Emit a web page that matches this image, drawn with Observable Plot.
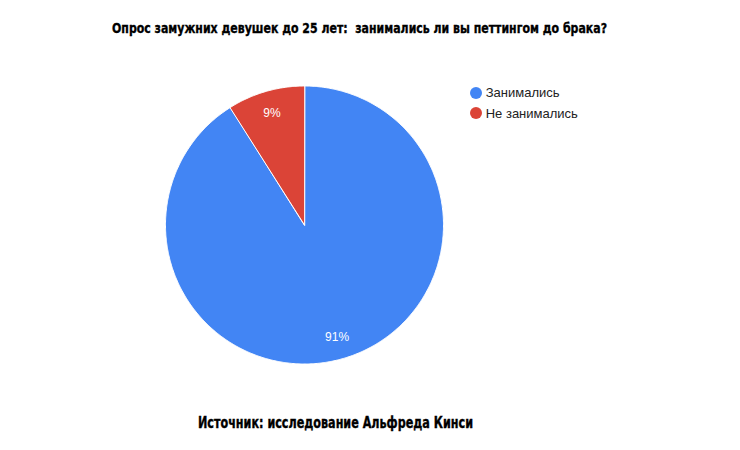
<!DOCTYPE html>
<html><head><meta charset="utf-8">
<script src="https://cdn.jsdelivr.net/npm/d3@7"></script>
<script src="https://cdn.jsdelivr.net/npm/@observablehq/plot@0.6"></script>
<style>
body{margin:0;background:#fff;width:740px;height:450px;position:relative;overflow:hidden;font-family:"Liberation Sans",Arial,sans-serif}
.heavy{position:absolute;font-family:"DejaVu Sans Condensed","Liberation Sans",sans-serif;font-weight:bold;line-height:1;white-space:pre;color:#000;transform-origin:0 50%;-webkit-text-stroke:0.35px #000}
#title{left:112px;top:20.8px;font-size:14.5px}
#caption{left:198px;top:415.5px;font-size:15.5px}
#chart{position:absolute;left:0;top:50px}
.row{position:absolute;left:469.7px;height:14px;display:flex;align-items:center;font-size:13px;color:#222;white-space:nowrap}
.sw{display:inline-block;width:12px;height:12px;border-radius:50%;margin-right:4px}
</style></head>
<body>
<div id="title" class="heavy"></div>
<div id="chart"></div>
<div id="legend"></div>
<div id="caption" class="heavy"></div>
<script>
const titleText = "Опрос замужних девушек до 25 лет:  занимались ли вы петтингом до брака?";
const captionText = "Источник: исследование Альфреда Кинси";
const categories = ["Занимались", "Не занимались"];
const shares = [91, 9];
const colors = ["#4285f4", "#db4437"];

function fitWidth(el, target) {
  const w = el.getBoundingClientRect().width;
  el.style.transform = "scaleX(" + (target / w) + ")";
}
const t = document.getElementById("title");
t.textContent = titleText;
fitWidth(t, 495);
const cap = document.getElementById("caption");
cap.textContent = captionText;
fitWidth(cap, 275);

const arcs = d3.pie().sort(null)(shares);
const slices = arcs.map((p, i) => {
  const n = Math.max(4, Math.ceil((p.endAngle - p.startAngle) / (Math.PI / 360)));
  const ring = [[0, 0]];
  for (let k = 0; k <= n; k++) {
    const a = p.startAngle + (p.endAngle - p.startAngle) * k / n;
    ring.push([Math.sin(a), Math.cos(a)]);
  }
  ring.push([0, 0]);
  return {type: "Feature", properties: {category: categories[i], share: shares[i]},
          geometry: {type: "Polygon", coordinates: [ring]}};
});
const labels = arcs.map((p, i) => {
  const m = (p.startAngle + p.endAngle) / 2;
  return {x: 0.84 * Math.sin(m), y: 0.84 * Math.cos(m), text: shares[i] + "%"};
});

const chart = Plot.plot({
  width: 740, height: 350,
  marginLeft: 165, marginRight: 297, marginTop: 35.5, marginBottom: 36.5,
  style: {fontFamily: "'Liberation Sans', Arial, sans-serif", background: "white"},
  projection: {type: "reflect-y", domain: {type: "MultiPoint", coordinates: [[-1, -1], [1, 1]]}},
  color: {domain: categories, range: colors},
  marks: [
    Plot.geo(slices, {fill: d => d.properties.category, stroke: "white", strokeWidth: 1}),
    Plot.text(labels, {x: "x", y: "y", text: "text", fill: "white", fontSize: 12})
  ]
});
document.getElementById("chart").appendChild(chart);

const legend = document.getElementById("legend");
const rowCenters = [92.7, 113.3];
categories.forEach((c, i) => {
  const row = document.createElement("div");
  row.className = "row";
  row.style.top = (rowCenters[i] - 7) + "px";
  const sw = document.createElement("span");
  sw.className = "sw";
  sw.style.background = colors[i];
  row.appendChild(sw);
  row.appendChild(document.createTextNode(c));
  legend.appendChild(row);
});
</script>
</body></html>
